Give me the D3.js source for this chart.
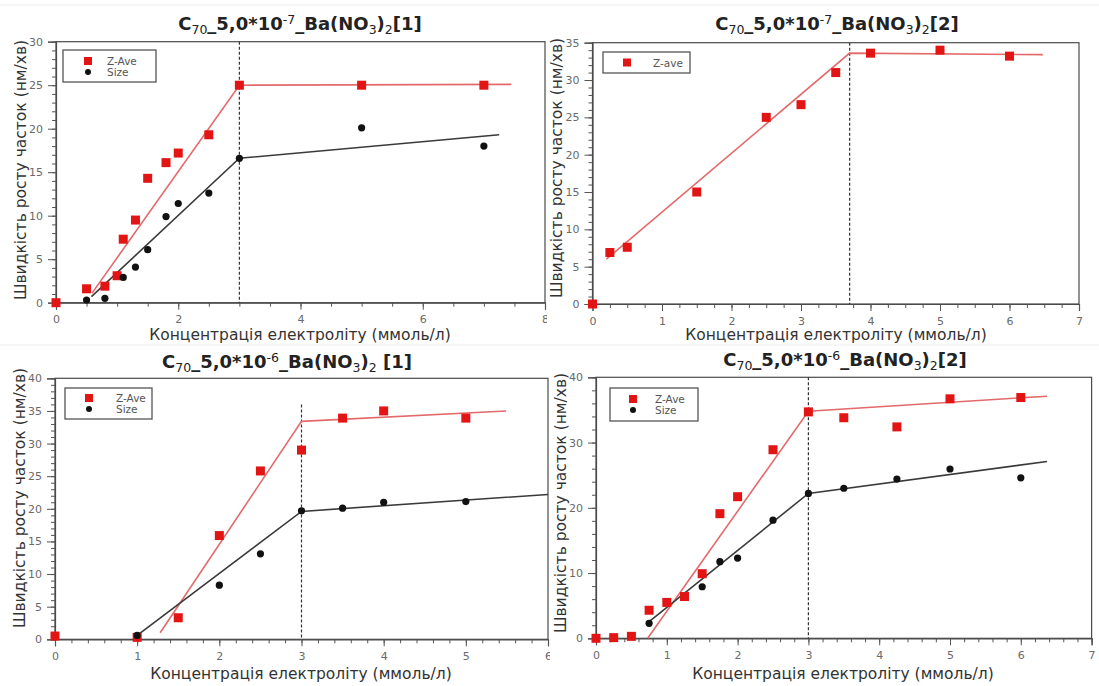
<!DOCTYPE html>
<html>
<head>
<meta charset="utf-8">
<script src="https://cdn.jsdelivr.net/npm/d3@7"></script>
<style>
  body { margin: 0; background: #fff; }
  svg { display: block; }
</style>
</head>
<body>
<svg id="chart" width="1099" height="686"></svg>
<script>
// panel 1: C70_5,0*10-7 [1]
const p1Zave = [[0,0],[0.5,1.6],[0.8,1.9],[1.0,3.1],[1.1,7.3],[1.3,9.5],[1.5,14.3],[1.8,16.1],[2.0,17.2],[2.5,19.3],[3,25],[5,25],[7,25]];
const p1Size = [[0.5,0.3],[0.8,0.5],[1.1,2.9],[1.3,4.1],[1.5,6.1],[1.8,9.9],[2.0,11.4],[2.5,12.6],[3,16.6],[5,20.1],[7,18.0]];
const p1ZaveFit = [[0.59,1.1],[3,25],[7.45,25.1]];
const p1SizeFit = [[0.58,0.7],[3,16.6],[7.25,19.3]];

// panel 2: C70_5,0*10-7 [2]
const p2Zave = [[0,0],[0.25,6.9],[0.5,7.6],[1.5,15.0],[2.5,25.0],[3.0,26.7],[3.5,31.0],[4.0,33.6],[5.0,34.0],[6.0,33.2]];
const p2ZaveFit = [[0.2,6.0],[3.7,33.6],[6.48,33.4]];

// panel 3: C70_5,0*10-6 [1]
const p3Zave = [[0,0.5],[1.0,0.3],[1.5,3.3],[2.0,15.9],[2.5,25.8],[3.0,29.0],[3.5,33.9],[4.0,35.0],[5.0,33.9]];
const p3Size = [[1.0,0.6],[2.0,8.3],[2.5,13.1],[3.0,19.7],[3.5,20.1],[4.0,21.0],[5.0,21.1]];
const p3ZaveFit = [[1.28,1.0],[3,33.4],[5.49,35.0]];
const p3SizeFit = [[1.0,0.6],[3,19.6],[6.0,22.2]];

// panel 4: C70_5,0*10-6 [2]
const p4Zave = [[0,0],[0.25,0.1],[0.5,0.3],[0.75,4.3],[1.0,5.5],[1.25,6.4],[1.5,9.9],[1.75,19.1],[2.0,21.7],[2.5,28.9],[3.0,34.7],[3.5,33.8],[4.25,32.4],[5.0,36.7],[6.0,36.9]];
const p4Size = [[0.75,2.3],[1.5,7.9],[1.75,11.75],[2.0,12.3],[2.5,18.1],[3.0,22.2],[3.5,23.0],[4.25,24.4],[5.0,25.95],[6.0,24.6]];
const p4ZaveFit = [[0.73,0],[3,34.8],[6.37,37.1]];
const p4SizeFit = [[0.72,2.3],[3,22.2],[6.37,27.1]];

// titles as [text, "sub" | "sup" | ""]
const titleTop1 = [["C",""],["70","sub"],["_5,0*10",""],["-7","sup"],["_Ba(NO",""],["3","sub"],[")",""],["2","sub"],["[1]",""]];
const titleTop2 = [["C",""],["70","sub"],["_5,0*10",""],["-7","sup"],["_Ba(NO",""],["3","sub"],[")",""],["2","sub"],["[2]",""]];
const titleBot1 = [["C",""],["70","sub"],["_5,0*10",""],["-6","sup"],["_Ba(NO",""],["3","sub"],[")",""],["2","sub"],[" [1]",""]];
const titleBot2 = [["C",""],["70","sub"],["_5,0*10",""],["-6","sup"],["_Ba(NO",""],["3","sub"],[")",""],["2","sub"],["[2]",""]];

const xLabel = "Концентрація електроліту (ммоль/л)";
const yLabel = "Швидкість росту часток (нм/хв)";

const RED = "#e21414";
const RED_LINE = "#e36a6a";
const DARK_LINE = "#3a3a3a";
const FONT = "DejaVu Sans, Verdana, sans-serif";

const svg = d3.select("#chart");
const defs = svg.append("defs");
[["clipTL", 0, 0, 547, 343], ["clipTR", 547, 0, 1099, 343], ["clipBL", 0, 343, 550, 686], ["clipBR", 550, 343, 1099, 686]]
  .forEach(([id, x0, y0, x1, y1]) => {
    defs.append("clipPath").attr("id", id)
      .append("rect").attr("x", x0).attr("y", y0).attr("width", x1 - x0).attr("height", y1 - y0);
  });

// faint sheet lines from the pasted screenshots
svg.append("g").selectAll("line").data([5, 345]).join("line")
  .attr("x1", 0).attr("x2", 1099).attr("y1", (d) => d).attr("y2", (d) => d)
  .attr("stroke", "#ececec").attr("stroke-width", 1);

const drawTitle = (g, parts, cx, cy) => {
  const t = g.append("text")
    .attr("x", cx).attr("y", cy)
    .attr("text-anchor", "middle")
    .attr("font-family", FONT).attr("font-weight", "bold")
    .attr("font-size", 18).attr("fill", "#222");
  let shift = 0;
  parts.forEach(([s, kind]) => {
    const target = kind === "sub" ? 4 : kind === "sup" ? -6 : 0;
    t.append("tspan")
      .attr("dy", target - shift)
      .attr("font-size", kind ? 12.5 : 18)
      .attr("font-weight", kind ? "normal" : "bold")
      .text(s);
    shift = target;
  });
};

const drawPanel = (cfg) => {
  const {
    clip, box, xMax, yMax, xMinor, xMajor, yMinor, yMajor, title, titleX, titleY,
    zave, size, zaveFit, sizeFit, vlineX, vlineTop = yMax, legend, yLabelX, yLabelY, xLabelX, xLabelY,
  } = cfg;
  const g = svg.append("g").attr("clip-path", `url(#${clip})`);
  const x = d3.scaleLinear().domain([0, xMax]).range([box.l, box.r]);
  const y = d3.scaleLinear().domain([0, yMax]).range([box.b, box.t]);

  // frame
  g.append("rect")
    .attr("x", box.l).attr("y", box.t)
    .attr("width", box.r - box.l).attr("height", box.b - box.t)
    .attr("fill", "none").attr("stroke", "#4a4a4a").attr("stroke-width", 1.2);

  // minor ticks
  const minorAxisX = d3.axisBottom(x).tickValues(d3.range(0, xMax + 1e-9, xMinor)).tickSize(4).tickFormat("");
  const minorAxisY = d3.axisLeft(y).tickValues(d3.range(0, yMax + 1e-9, yMinor)).tickSize(4).tickFormat("");
  g.append("g").attr("transform", `translate(0,${box.b})`).call(minorAxisX).call((s) => s.select(".domain").remove());
  g.append("g").attr("transform", `translate(${box.l},0)`).call(minorAxisY).call((s) => s.select(".domain").remove());

  // major ticks + labels
  const ax = g.append("g").attr("transform", `translate(0,${box.b})`)
    .call(d3.axisBottom(x).tickValues(d3.range(0, xMax + 1e-9, xMajor)).tickSize(7).tickPadding(6).tickFormat(d3.format("d")));
  const ay = g.append("g").attr("transform", `translate(${box.l},0)`)
    .call(d3.axisLeft(y).tickValues(d3.range(0, yMax + 1e-9, yMajor)).tickSize(8).tickPadding(5).tickFormat(d3.format("d")));
  [ax, ay].forEach((a) => {
    a.select(".domain").attr("stroke", "#4a4a4a").attr("stroke-width", 1.2);
    a.selectAll(".tick text").attr("font-family", FONT).attr("font-size", 11).attr("fill", "#6a6a6a");
  });
  g.selectAll(".tick line").attr("stroke", "#555");

  // dashed break line
  g.append("line")
    .attr("x1", x(vlineX)).attr("x2", x(vlineX))
    .attr("y1", y(vlineTop)).attr("y2", y(0))
    .attr("stroke", "#333").attr("stroke-width", 1.2).attr("stroke-dasharray", "3,2");

  // fitted lines
  const line = d3.line().x((d) => x(d[0])).y((d) => y(d[1]));
  g.append("path").datum(zaveFit).attr("d", line)
    .attr("fill", "none").attr("stroke", RED_LINE).attr("stroke-width", 1.6);
  if (sizeFit) {
    g.append("path").datum(sizeFit).attr("d", line)
      .attr("fill", "none").attr("stroke", DARK_LINE).attr("stroke-width", 1.6);
  }

  // points
  g.append("g").selectAll("rect").data(zave).join("rect")
    .attr("x", (d) => x(d[0]) - 4.5).attr("y", (d) => y(d[1]) - 4.5)
    .attr("width", 9).attr("height", 9).attr("fill", RED);
  if (size) {
    g.append("g").selectAll("circle").data(size).join("circle")
      .attr("cx", (d) => x(d[0])).attr("cy", (d) => y(d[1]))
      .attr("r", 3.6).attr("fill", "#111");
  }

  // legend
  const lg = g.append("g").attr("transform", `translate(${legend.x},${legend.y})`);
  lg.append("rect").attr("width", legend.w).attr("height", legend.h)
    .attr("fill", "#fff").attr("stroke", "#555").attr("stroke-width", 1.3);
  const legendRowH = 11;
  const legendG = lg.selectAll("g.item").data(legend.items).join("g").attr("class", "item")
    .attr("transform", (_, i) => `translate(0,${legend.first + i * legendRowH})`);
  legendG.filter((d) => d.kind === "square").append("rect")
    .attr("x", legend.icon - 4).attr("y", -4).attr("width", 8).attr("height", 8).attr("fill", RED);
  legendG.filter((d) => d.kind === "circle").append("circle")
    .attr("cx", legend.icon).attr("cy", 0).attr("r", 3).attr("fill", "#111");
  legendG.append("text")
    .attr("x", legend.text).attr("y", 4)
    .attr("font-family", FONT).attr("font-size", 10.5).attr("fill", "#555")
    .text((d) => d.label);

  drawTitle(g, title, titleX, titleY);

  g.append("text")
    .attr("transform", `translate(${yLabelX},${yLabelY}) rotate(-90)`)
    .attr("text-anchor", "middle").attr("dominant-baseline", "middle")
    .attr("font-family", FONT).attr("font-size", 15.5).attr("fill", "#333")
    .text(yLabel);
  g.append("text")
    .attr("x", xLabelX).attr("y", xLabelY)
    .attr("text-anchor", "middle")
    .attr("font-family", FONT).attr("font-size", 15.5).attr("fill", "#333")
    .text(xLabel);
};

const twoItems = [{ kind: "square", label: "Z-Ave" }, { kind: "circle", label: "Size" }];

drawPanel({
  clip: "clipTL", box: { l: 56, r: 545, t: 41.7, b: 302.7 }, xMax: 8, yMax: 30,
  xMajor: 2, xMinor: 0.5, yMajor: 5, yMinor: 1,
  title: titleTop1, titleX: 300, titleY: 30,
  zave: p1Zave, size: p1Size, zaveFit: p1ZaveFit, sizeFit: p1SizeFit, vlineX: 3,
  legend: { x: 63, y: 50, w: 93, h: 32, first: 11, icon: 25, text: 44, items: twoItems },
  yLabelX: 21, yLabelY: 170, xLabelX: 300, xLabelY: 340,
});

drawPanel({
  clip: "clipTR", box: { l: 592.5, r: 1079, t: 42.7, b: 304 }, xMax: 7, yMax: 35,
  xMajor: 1, xMinor: 0.25, yMajor: 5, yMinor: 1,
  title: titleTop2, titleX: 837, titleY: 30,
  zave: p2Zave, size: null, zaveFit: p2ZaveFit, sizeFit: null, vlineX: 3.7,
  legend: { x: 603, y: 52, w: 87, h: 21, first: 10.5, icon: 24, text: 50, items: [{ kind: "square", label: "Z-ave" }] },
  yLabelX: 557, yLabelY: 168, xLabelX: 836, xLabelY: 340,
});

drawPanel({
  clip: "clipBL", box: { l: 55, r: 548, t: 378.3, b: 639.3 }, xMax: 6, yMax: 40,
  xMajor: 1, xMinor: 0.2, yMajor: 5, yMinor: 1,
  title: titleBot1, titleX: 287, titleY: 368,
  zave: p3Zave, size: p3Size, zaveFit: p3ZaveFit, sizeFit: p3SizeFit, vlineX: 3, vlineTop: 36,
  legend: { x: 65, y: 388, w: 87, h: 31, first: 10, icon: 24, text: 51, items: twoItems },
  yLabelX: 20, yLabelY: 498, xLabelX: 301, xLabelY: 679,
});

drawPanel({
  clip: "clipBR", box: { l: 596, r: 1091.6, t: 377.3, b: 638.3 }, xMax: 7, yMax: 40,
  xMajor: 1, xMinor: 0.2, yMajor: 10, yMinor: 2,
  title: titleBot2, titleX: 845, titleY: 366,
  zave: p4Zave, size: p4Size, zaveFit: p4ZaveFit, sizeFit: p4SizeFit, vlineX: 3,
  legend: { x: 610, y: 388, w: 88, h: 33, first: 11, icon: 23, text: 45, items: twoItems },
  yLabelX: 561, yLabelY: 503, xLabelX: 843, xLabelY: 679,
});
</script>
</body>
</html>
